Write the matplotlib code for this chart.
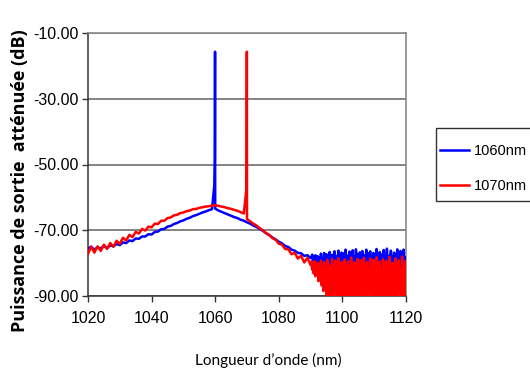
import numpy as np
import matplotlib
matplotlib.use("Agg")
import matplotlib.pyplot as plt
from matplotlib.ticker import FormatStrFormatter
from matplotlib.patches import Rectangle

# ---------------- data ----------------
# sampling grid: 1 nm from 1020 to 1090, then 0.25 nm in the noisy tail
wl_main = np.arange(1020, 1091, 1.0)
wl_tail = np.arange(1090.25, 1120.01, 0.25)

blue_main = [
    -75.6, -75.0, -75.9, -75.2, -75.5, -74.9, -75.4, -74.6, -74.9, -74.2,
    -74.5, -73.7, -73.9, -73.1, -73.3, -72.5, -72.6, -71.9, -71.9, -71.2,
    -71.3, -70.5, -70.4, -69.7, -69.6, -68.9, -68.7, -68.1, -67.8, -67.3,
    -67.0, -66.5, -66.2, -65.7, -65.4, -65.0, -64.6, -64.3, -63.9, -63.6,
    -63.4, -64.0, -64.4, -64.8, -65.2, -65.6, -66.0, -66.3, -66.8, -67.1,
    -67.6, -68.0, -68.6, -69.0, -69.6, -70.2, -70.9, -71.5, -72.2, -72.8,
    -73.5, -74.0, -74.8, -75.1, -75.9, -76.2, -76.9, -77.0, -77.8, -77.6,
    -78.5,
]
blue_tail = [
    -78.2, -77.4, -79.6, -78.1, -80.3, -77.6, -79.0, -80.8, -77.9, -79.5,
    -78.3, -81.2, -77.1, -79.9, -78.6, -80.5, -76.9, -81.6, -78.8, -77.3,
    -80.2, -78.0, -82.0, -76.6, -79.4, -80.9, -77.5, -81.8, -78.2, -76.4,
    -80.0, -82.3, -77.8, -79.1, -76.2, -81.0, -78.5, -80.4, -76.8, -82.6,
    -78.9, -77.0, -80.7, -75.9, -79.3, -81.9, -77.7, -80.1, -76.5, -82.9,
    -78.4, -79.8, -76.1, -81.4, -77.9, -80.6, -75.8, -79.2, -82.4, -77.2,
    -80.3, -76.7, -78.9, -81.7, -76.3, -79.6, -82.1, -77.6, -80.8, -75.9,
    -78.7, -81.3, -77.0, -79.9, -76.4, -83.0, -78.1, -80.2, -76.9, -81.5,
    -77.4, -79.7, -75.7, -82.2, -78.3, -80.9, -76.6, -79.4, -82.7, -77.3,
    -80.0, -76.0, -81.1, -78.6, -79.8, -75.6, -80.5, -82.5, -77.8, -79.1,
    -76.2, -81.9, -78.0, -80.4, -76.8, -82.8, -77.5, -79.5, -75.8, -81.2,
    -78.4, -80.7, -76.3, -82.0, -77.7, -79.3, -75.9, -81.6, -78.2, -80.1,
]
blue_peak_wl = [1059.75, 1059.88, 1059.95, 1059.98]
blue_peak_db = [-56.0, -48.0, -15.7, -48.0]

red_main = [
    -77.2, -75.0, -76.8, -74.9, -76.3, -74.4, -75.7, -73.9, -75.0, -73.2,
    -74.1, -72.3, -73.1, -71.4, -72.1, -70.5, -71.0, -69.6, -70.1, -68.9,
    -69.1, -68.0, -68.1, -67.1, -67.1, -66.3, -66.1, -65.5, -65.3, -64.8,
    -64.6, -64.2, -64.0, -63.6, -63.5, -63.2, -63.0, -62.8, -62.7, -62.5,
    -62.4, -62.6, -62.8, -63.0, -63.3, -63.5, -63.8, -64.1, -64.5, -64.9,
    -66.6, -67.3, -68.0, -68.6, -69.4, -70.0, -70.9, -71.4, -72.4, -72.9,
    -74.1, -74.4, -75.7, -75.8, -77.3, -76.9, -78.6, -77.8, -79.8, -78.4,
    -80.6,
]
red_tail = [
    -79.5, -82.0, -80.1, -83.2, -79.4, -84.0, -80.6, -82.8, -79.9, -85.5,
    -80.3, -83.9, -79.2, -86.8, -80.9, -88.5, -79.6, -85.2, -81.2, -92.0,
    -79.0, -89.0, -80.4, -94.5, -82.0, -91.0, -78.8, -96.0, -80.7, -88.0,
    -79.3, -93.0, -81.5, -97.0, -78.5, -90.5, -80.2, -95.0, -79.7, -92.5,
    -82.6, -87.5, -78.9, -96.5, -80.9, -91.5, -79.4, -94.0, -81.1, -89.5,
    -78.3, -97.5, -80.0, -92.0, -79.8, -95.5, -83.0, -90.0, -78.7, -93.5,
    -80.5, -96.0, -79.1, -88.5, -81.7, -94.5, -78.4, -91.0, -80.3, -97.0,
    -79.6, -92.5, -82.2, -89.0, -78.6, -95.0, -80.8, -93.0, -79.0, -96.5,
    -81.3, -90.5, -78.2, -94.0, -80.6, -88.0, -79.5, -97.5, -82.4, -92.0,
    -78.8, -95.5, -80.1, -91.0, -79.3, -94.5, -81.8, -89.5, -78.1, -96.0,
    -80.4, -93.5, -79.9, -90.0, -82.7, -97.0, -78.5, -92.5, -80.2, -95.0,
    -79.2, -88.5, -81.5, -94.0, -78.0, -96.5, -80.7, -91.5, -79.4, -93.0,
]
red_peak_wl = [1069.75, 1069.88, 1069.95, 1069.98]
red_peak_db = [-58.0, -51.7, -15.7, -52.0]

series_labels = ["1060nm", "1070nm"]
x_ticks = [1020, 1040, 1060, 1080, 1100, 1120]
y_ticks = [-90, -70, -50, -30, -10]


def merged(main, tail, pwl, pdb):
    x = np.concatenate([wl_main, wl_tail, pwl])
    y = np.concatenate([main, tail, pdb])
    order = np.argsort(x, kind="stable")
    return x[order], y[order]


bx, by = merged(blue_main, blue_tail, blue_peak_wl, blue_peak_db)
rx, ry = merged(red_main, red_tail, red_peak_wl, red_peak_db)

# ---------------- figure ----------------
W, H = 530, 371
tickfont = ["Liberation Sans", "DejaVu Sans"]
fig = plt.figure(figsize=(W / 100, H / 100), dpi=100)
ax = fig.add_axes([88 / W, 1 - 296 / H, (406 - 88) / W, (296 - 33) / H])

l1, = ax.plot(bx, by, color="#0000ff", lw=1.8, label=series_labels[0], zorder=3)
l2, = ax.plot(rx, ry, color="#ff0000", lw=1.8, label=series_labels[1], zorder=4)

ax.set_xlim(1020, 1120)
ax.set_ylim(-90, -10)
ax.set_xticks(x_ticks)
ax.set_yticks(y_ticks)
ax.yaxis.set_major_formatter(FormatStrFormatter("%.2f"))

ax.grid(axis="y", color="#7a7a7a", lw=1.3, zorder=1)
ax.set_axisbelow(True)

for s in ["top", "right"]:
    ax.spines[s].set_color("#8a8a8a")
    ax.spines[s].set_linewidth(1.2)
for s in ["left", "bottom"]:
    ax.spines[s].set_color("#333333")
    ax.spines[s].set_linewidth(1.1)

ax.tick_params(axis="both", direction="out", length=4.5, width=1.0, color="#333333",
               labelsize=11.5)
ax.tick_params(axis="y", pad=2.5)
ax.tick_params(axis="x", pad=6.5)
for lab in ax.get_xticklabels() + ax.get_yticklabels():
    lab.set_family(tickfont)

ax.set_xlabel("Longueur d\u2019onde (nm)", family=["Lato", "DejaVu Sans"], fontsize=11)
ax.xaxis.set_label_coords((268 - 88) / 318, -(353 - 296) / 263)
ax.set_ylabel("Puissance de sortie  att\u00e9nu\u00e9e (dB)", family=["Open Sans", "DejaVu Sans"],
              fontsize=13, fontweight="bold")
ax.yaxis.set_label_coords((29 - 88) / 318, 1 - (180.5 - 33) / 263)

leg = fig.legend(handles=[l1, l2], loc="upper left", bbox_to_anchor=(440 / W, 1 - 144 / H),
                 bbox_transform=fig.transFigure, frameon=False,
                 prop={"family": tickfont, "size": 10.5}, handlelength=2.0, handletextpad=0.35,
                 labelspacing=1.45, borderpad=0, borderaxespad=0)
for h in leg.get_lines():
    h.set_linewidth(1.8)
fig.patches.append(Rectangle((436 / W, 1 - 201 / H), (531 - 436) / W, (201 - 128) / H,
                             transform=fig.transFigure, fill=False, edgecolor="#333333",
                             lw=1.0, clip_on=False))

fig.savefig("out.png", dpi=100)
